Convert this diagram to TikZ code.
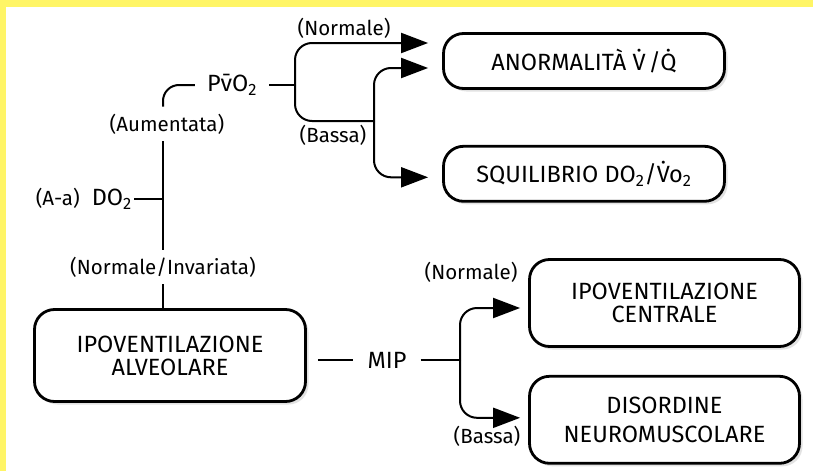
\documentclass[tikz,border=0pt]{standalone}
\usepackage{fontspec}
\setmainfont{Fira Sans}
\usetikzlibrary{arrows.meta}
\usetikzlibrary{positioning}
\usetikzlibrary{calc}
\usetikzlibrary{shadows}
\definecolor{frameyellow}{HTML}{FFF566}
\newcommand{\bigtxt}{\fontsize{23.5}{23}\selectfont}
\tikzset{
  % big filled heads as in the scan
  >={Triangle[length=27pt,width=20pt]},
  box/.style={draw, fill=white, line width=2.8pt, rounded corners=20pt, align=center,
    font=\bigtxt,
    drop shadow={shadow xshift=3pt, shadow yshift=-3pt, fill=black!22}},
  lbl/.style={font=\fontsize{20.5}{22}\selectfont, inner xsep=2pt, inner ysep=7pt},
  link/.style={draw, line width=2pt},
  arr/.style={link, ->, rounded corners=17pt}
}

\begin{document}
\begin{tikzpicture}[x=1pt, y=-1pt, node distance=24pt]
    % frame
    \useasboundingbox (0,0) rectangle (813,471);
    \fill[white] (0,0) rectangle (813,471);
    \fill[frameyellow] (0,0) rectangle (813,7);
    \fill[frameyellow] (0,0) rectangle (6,471);

    % Place boxes
    \node[box, minimum width=281pt, minimum height=55pt] (anorm) at (584,61) {ANORMALIT\`A \.{V}\hspace{3pt}/\.{Q}};
    \node[box, minimum width=281pt, minimum height=55pt, below=55pt of anorm] (squil) {SQUILIBRIO DO\textsubscript{2}/\.{V}o\textsubscript{2}};
    \node[box, minimum width=271pt, minimum height=92pt] (alveol) at (170,355.5) {IPOVENTILAZIONE\\ALVEOLARE};
    \node[box, minimum width=270pt, minimum height=87pt] (centr) at (664.5,303) {IPOVENTILAZIONE\\CENTRALE};
    \node[box, minimum width=270pt, minimum height=87pt, below=27pt of centr] (disord) {DISORDINE\\[6pt]NEUROMUSCOLARE};

    % Place labels
    \coordinate (trunk) at (163,200);
    \node[lbl] (aum) at (167,124) {(Aumentata)};
    \node[lbl] (norminv) at (163,267) {(Normale/Invariata)};
    \node[lbl, anchor=east] (ado) at (134,199) {(A-a)\hspace{12pt}{\bigtxt DO\textsubscript{2}}};
    \node[lbl, font=\bigtxt, inner xsep=12pt] (pv) at (232,85) {P\={v}O\textsubscript{2}};
    \node[lbl, font=\bigtxt, inner xsep=14pt] (mip) at (387,360) {MIP};
    \node[lbl] (normA) at (344,28) {(Normale)};
    \node[lbl] (bassaA) at (333,135) {(Bassa)};
    \node[lbl] (normB) at (471,272) {(Normale)};
    \node[lbl] (bassaB) at (487,436) {(Bassa)};

    % Forks and arrow ends
    \coordinate (fork1) at (295,85);
    \coordinate (fork2) at (374,121);
    \coordinate (fork3) at (460,360);
    \coordinate (tipA) at ($(anorm.west)+(-14,-18)$);
    \coordinate (tipB) at ($(anorm.west)+(-14,7)$);
    \coordinate (tipC) at ($(squil.west)+(-14,3.5)$);
    \coordinate (tipD) at ($(centr.west)+(-8,5)$);
    \coordinate (tipE) at ($(disord.west)+(-8,-2)$);

    % Draw edges
    \draw[link] (alveol.north -| trunk) -- (norminv.south -| trunk);
    \draw[link] (norminv.north -| trunk) -- (aum.south -| trunk);
    \draw[link, rounded corners=16pt] (aum.north -| trunk) |- (pv.west);
    \draw[link] (ado.east) -- (ado.east -| trunk);
    \draw[link] (pv.east) -- (fork1);
    \draw[arr] (fork1) |- (tipA);
    \draw[link, rounded corners=17pt] (fork1) |- (fork2);
    \draw[arr] (fork2) |- (tipB);
    \draw[arr] (fork2) |- (tipC);
    \draw[link, shorten <=11pt] (alveol.east |- mip) -- (mip.west);
    \draw[link] (mip.east) -- (fork3);
    \draw[arr] (fork3) |- (tipD);
    \draw[arr] (fork3) |- (tipE);
\end{tikzpicture}
\end{document}
